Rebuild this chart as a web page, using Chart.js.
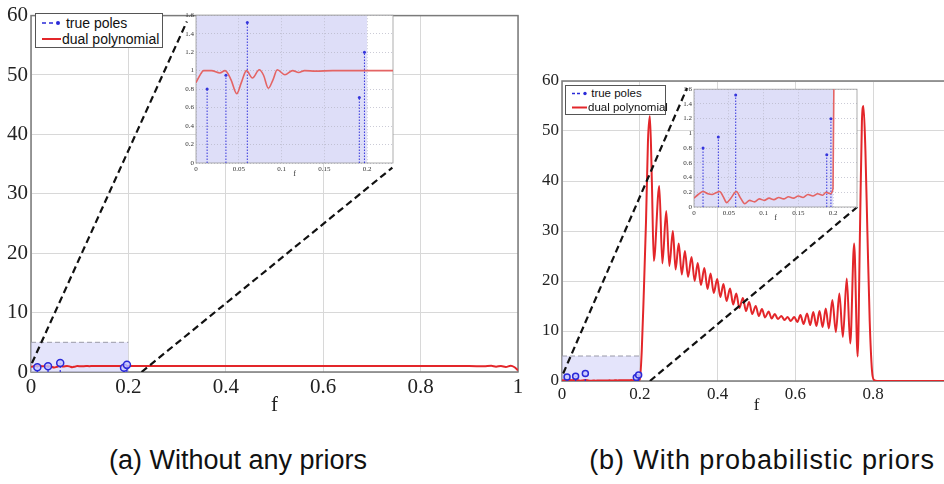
<!DOCTYPE html>
<html lang="en">
<head>
<meta charset="UTF-8">
<title>dual polynomial</title>
<script src="https://cdn.jsdelivr.net/npm/chart.js@4.4.0/dist/chart.umd.min.js"></script>
<style>
  body { margin:0; width:944px; height:484px; overflow:hidden; position:relative; background:#fff; }
  canvas { position:absolute; }
  .legend { position:absolute; background:#fff; border:1px solid #555; font-family:"Liberation Sans", Arial, sans-serif; color:#111; box-sizing:border-box; padding:1px 0 0 4px; }
  .legend div { display:flex; align-items:center; white-space:nowrap; }
  .legend svg { flex-shrink:0; }
  .caption { position:absolute; top:445px; font-family:"Liberation Sans", Arial, sans-serif; font-size:27px; color:#111; transform:translateX(-50%); white-space:nowrap; }
</style>
</head>
<body>
<canvas id="mainA" width="540" height="420" style="left:0;top:0"></canvas>
<canvas id="mainB" width="440" height="360" style="left:540px;top:60px"></canvas>
<canvas id="insetA" width="221" height="170" style="left:176px;top:9px"></canvas>
<canvas id="insetB" width="187" height="140" style="left:674px;top:83px"></canvas>

<div class="legend" style="left:35px;top:13px;width:128px;height:35px;font-size:14px;line-height:16px">
  <div><svg width="22" height="10"><line x1="2" y1="5" x2="15" y2="5" stroke="#2a2ad8" stroke-width="1.5" stroke-dasharray="4,3"/><circle cx="18" cy="5" r="2" fill="#2a2ad8"/></svg><span>&nbsp;true poles</span></div>
  <div><svg width="22" height="10"><line x1="2" y1="5" x2="21" y2="5" stroke="#e3262a" stroke-width="2"/></svg><span>dual polynomial</span></div>
</div>
<div class="legend" style="left:565px;top:85px;width:101px;height:30px;font-size:11.5px;line-height:13.5px">
  <div><svg width="18" height="9"><line x1="2" y1="4.5" x2="12" y2="4.5" stroke="#2a2ad8" stroke-width="1.3" stroke-dasharray="3,2"/><circle cx="15" cy="4.5" r="1.7" fill="#2a2ad8"/></svg><span>&nbsp;true poles</span></div>
  <div><svg width="18" height="9"><line x1="2" y1="4.5" x2="17" y2="4.5" stroke="#e3262a" stroke-width="2"/></svg><span>dual polynomial</span></div>
</div>

<div class="caption" style="left:238px">(a) Without any priors</div>
<div class="caption" style="left:762px;letter-spacing:0.9px">(b) With probabilistic priors</div>

<script>
// true poles (same in both panels)
const poleFreq = [0.013, 0.035, 0.06, 0.191, 0.197];
const poleAmp = [0.8, 0.95, 1.52, 0.71, 1.2];

// (a) dual polynomial without priors
const dualFreqA = [0, 0.004, 0.009, 0.018, 0.028, 0.034, 0.041, 0.0476, 0.053, 0.059,
  0.066, 0.074, 0.079, 0.0846, 0.09, 0.095, 0.104, 0.113, 0.12, 0.127,
  0.14, 0.16, 0.4, 0.7, 0.9, 0.93, 0.945, 0.955, 0.965, 0.975,
  0.985, 0.993, 1.0];
const dualValA = [0.87, 0.94, 1.0, 1.0, 0.975, 1.0, 0.9, 0.75, 0.87, 1.0,
  0.92, 1.01, 0.95, 0.81, 0.9, 1.01, 0.955, 1.0, 0.98, 1.0,
  0.995, 1.0, 1.0, 1.0, 1.0, 0.95, 1.05, 0.9, 1.0, 0.85,
  1.05, 0.8, 0.3];

// (b) dual polynomial with probabilistic priors
const dualFreqB = [0, 0.006, 0.013, 0.02, 0.026, 0.031, 0.037, 0.042, 0.047, 0.053,
  0.061, 0.067, 0.073, 0.08, 0.087, 0.094, 0.101, 0.108, 0.115, 0.122,
  0.129, 0.136, 0.143, 0.15, 0.157, 0.164, 0.171, 0.178, 0.185, 0.19,
  0.196, 0.2, 0.205, 0.21, 0.216, 0.221, 0.226, 0.231, 0.236, 0.25,
  0.258, 0.268, 0.276, 0.285, 0.292, 0.3, 0.308, 0.316, 0.324, 0.333,
  0.341, 0.349, 0.357, 0.366, 0.374, 0.382, 0.39, 0.399, 0.407, 0.415,
  0.423, 0.432, 0.44, 0.448, 0.456, 0.465, 0.473, 0.481, 0.489, 0.498,
  0.506, 0.514, 0.522, 0.531, 0.539, 0.547, 0.555, 0.564, 0.572, 0.58,
  0.588, 0.597, 0.605, 0.613, 0.621, 0.63, 0.638, 0.646, 0.654, 0.662,
  0.67, 0.678, 0.686, 0.695, 0.704, 0.713, 0.722, 0.732, 0.741, 0.751,
  0.76, 0.766, 0.771, 0.775, 0.78, 0.785, 0.791, 0.797, 0.802, 0.81, 1.0];
const dualValB = [0.12, 0.17, 0.21, 0.18, 0.17, 0.19, 0.21, 0.14, 0.06, 0.12,
  0.21, 0.12, 0.045, 0.09, 0.07, 0.11, 0.09, 0.12, 0.1, 0.13,
  0.11, 0.14, 0.12, 0.15, 0.13, 0.17, 0.15, 0.18, 0.16, 0.2,
  0.18, 0.25, 6, 17, 32, 48, 53, 40, 24, 39,
  23.5, 34, 23, 30, 22.3, 27.5, 21.3, 26.0, 20.8, 24.8,
  20.0, 23.6, 19.2, 22.6, 18.4, 21.5, 17.6, 20.4, 16.8, 19.4,
  16.0, 18.5, 15.3, 17.5, 14.6, 16.6, 14.0, 15.8, 13.4, 15.0,
  13.0, 14.4, 12.7, 13.9, 12.5, 13.4, 12.4, 13.0, 12.2, 12.8,
  12.0, 12.8, 11.8, 13.2, 11.4, 13.5, 11.2, 13.8, 11.0, 14.0,
  10.8, 14.5, 10.5, 16.2, 9.8, 17.5, 8.8, 20.5, 7.5, 27.5,
  4.9, 30, 52, 55, 46, 30, 12, 2, 0.2, 0, 0];

// zoomed region [f max, y max] and the connector lines to the inset
const zoomBox = [0.2, 5];
const linkStartA = [[0.002, 1.5], [0.227, 0]];
const linkEndA = [[0.32, 59], [0.742, 34.4]];
const linkStartB = [[0.003, 1.5], [0.226, 0]];
const linkEndB = [[0.3215, 58.6], [0.759, 34.8]];

// tick labels
const mainTicksX = [0, 0.2, 0.4, 0.6, 0.8, 1];
const mainTicksY = [0, 10, 20, 30, 40, 50, 60];
const insetTicksX = [0, 0.05, 0.1, 0.15, 0.2];
const insetTicksY = [0, 0.2, 0.4, 0.6, 0.8, 1, 1.2, 1.4, 1.6];

const RED = '#e3262a';
const BLUE = '#2a2ad8';
const SERIF = '"Times New Roman", "Liberation Serif", serif';

const xy = (fs, vs) => fs.map((f, i) => ({x: f, y: vs[i]}));
const stems = () => {
  const pts = [];
  poleFreq.forEach((f, i) => pts.push({x: f, y: 0}, {x: f, y: poleAmp[i]}, {x: f, y: null}));
  return pts;
};
const links = (s, e) => {
  const pts = [];
  s.forEach((p, i) => pts.push({x: p[0], y: p[1]}, {x: e[i][0], y: e[i][1]}, {x: e[i][0], y: null}));
  return pts;
};
const fmt = v => String(+v.toFixed(2));
const fixTicks = arr => scale => { scale.ticks = arr.map(v => ({value: v})); };

const framePlugin = {
  id: 'frame',
  beforeDatasetsDraw(chart, args, opts) {
    const a = chart.chartArea, ctx = chart.ctx;
    ctx.save();
    ctx.strokeStyle = opts.color;
    ctx.lineWidth = opts.width;
    ctx.strokeRect(a.left, a.top, a.right - a.left, a.bottom - a.top);
    ctx.restore();
  }
};
const shadePlugin = {
  id: 'shade',
  beforeDraw(chart, args, opts) {
    const a = chart.chartArea, ctx = chart.ctx;
    ctx.save();
    ctx.fillStyle = '#fff';
    ctx.fillRect(a.left, a.top, a.right - a.left, a.bottom - a.top);
    ctx.fillStyle = opts.color;
    const xr = chart.scales.x.getPixelForValue(opts.until);
    ctx.fillRect(a.left, a.top, xr - a.left, a.bottom - a.top);
    ctx.restore();
  }
};

function mainChart(id, fs, vs, ls, le, o) {
  return new Chart(document.getElementById(id), {
    type: 'line',
    data: {
      datasets: [
        {data: links(ls, le), borderColor: '#111', borderWidth: 2.2, borderDash: [7, 4], pointRadius: 0},
        {data: stems(), borderColor: BLUE, borderWidth: 1.2, borderDash: [2, 2],
          pointRadius: c => c.dataIndex % 3 === 1 ? o.poleR : 0,
          pointBorderColor: BLUE, pointBackgroundColor: 'rgba(200,200,255,0.8)', pointBorderWidth: 1.5},
        {data: xy(fs, vs), borderColor: RED, borderWidth: 2, pointRadius: 0, cubicInterpolationMode: 'monotone'},
        {data: [{x: 0, y: zoomBox[1]}, {x: zoomBox[0], y: zoomBox[1]}], borderColor: '#9a9aa8', borderWidth: 1,
          borderDash: [5, 3], pointRadius: 0, fill: 'origin', backgroundColor: 'rgba(205,205,248,0.55)'}
      ]
    },
    options: {
      responsive: false, animation: false,
      layout: {autoPadding: false, padding: o.pad},
      plugins: {legend: {display: false}, tooltip: {enabled: false}, frame: {color: '#7a7a7a', width: 1.5}},
      scales: {
        x: {
          type: 'linear', min: 0, max: 1,
          afterBuildTicks: fixTicks(mainTicksX),
          afterFit: s => { s.height = o.xh; },
          grid: {color: '#d8d8d8', drawTicks: false},
          border: {display: false},
          ticks: {callback: fmt, padding: o.xpad, color: '#222', font: {family: SERIF, size: o.fs}, maxRotation: 0},
          title: {display: true, text: 'f', color: '#222', font: {family: SERIF, size: o.fs}, padding: {top: 0, bottom: o.tpad}}
        },
        y: {
          min: 0, max: 60,
          afterBuildTicks: fixTicks(mainTicksY),
          afterFit: s => { s.width = o.yw; },
          grid: {color: '#d8d8d8', drawTicks: false},
          border: {display: false},
          ticks: {padding: 3, color: '#222', font: {family: SERIF, size: o.fs}}
        }
      }
    },
    plugins: [framePlugin]
  });
}

function insetChart(id, fs, vs, xmax) {
  return new Chart(document.getElementById(id), {
    type: 'line',
    data: {
      datasets: [
        {data: xy(fs, vs), borderColor: '#e46464', borderWidth: 1.6, pointRadius: 0, cubicInterpolationMode: 'monotone'},
        {data: stems(), borderColor: '#3434dc', borderWidth: 1, borderDash: [1.5, 1.5],
          pointRadius: c => c.dataIndex % 3 === 1 ? 1.5 : 0, pointBackgroundColor: '#3434dc', pointBorderWidth: 0}
      ]
    },
    options: {
      responsive: false, animation: false,
      layout: {autoPadding: false, padding: {left: 0, right: 4, top: 5, bottom: 0}},
      plugins: {legend: {display: false}, tooltip: {enabled: false},
        frame: {color: '#9a9a9a', width: 0.8}, shade: {color: '#dedef8', until: zoomBox[0]}},
      scales: {
        x: {
          type: 'linear', min: 0, max: xmax,
          afterBuildTicks: fixTicks(insetTicksX),
          afterFit: s => { s.height = 16; },
          grid: {color: '#b4b4c4', drawTicks: false, lineWidth: 0.7},
          border: {display: false, dash: [1, 2]},
          ticks: {callback: fmt, padding: 2, color: '#333', font: {family: SERIF, size: 7}, maxRotation: 0},
          title: {display: true, text: 'f', color: '#333', font: {family: SERIF, size: 8}, padding: 0}
        },
        y: {
          min: 0, max: 1.6,
          afterBuildTicks: fixTicks(insetTicksY),
          afterFit: s => { s.width = 20; },
          grid: {color: '#b4b4c4', drawTicks: false, lineWidth: 0.7},
          border: {display: false, dash: [1, 2]},
          ticks: {callback: fmt, padding: 2, color: '#333', font: {family: SERIF, size: 7}}
        }
      }
    },
    plugins: [shadePlugin, framePlugin]
  });
}

mainChart('mainA', dualFreqA, dualValA, linkStartA, linkEndA,
  {pad: {left: 0, right: 22, top: 8, bottom: 0}, xh: 48, yw: 31, fs: 21, xpad: 3, tpad: 2, poleR: 3.5});
mainChart('mainB', dualFreqB, dualValB, linkStartB, linkEndB,
  {pad: {left: 0, right: 29, top: 21, bottom: 0}, xh: 39, yw: 22, fs: 17, xpad: 3, tpad: 4, poleR: 3});
insetChart('insetA', dualFreqA, dualValA, 0.2304);
insetChart('insetB', dualFreqB, dualValB, 0.2345);
</script>
</body>
</html>
